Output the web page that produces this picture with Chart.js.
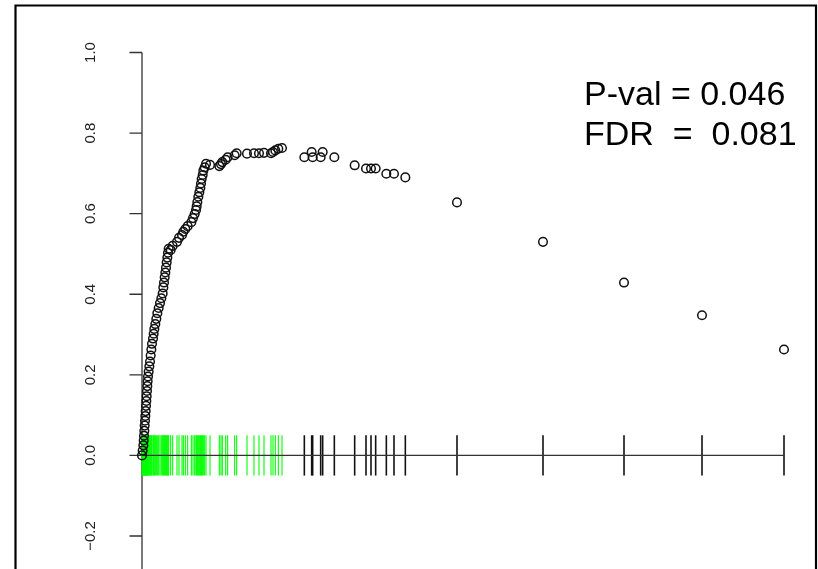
<!DOCTYPE html>
<html>
<head>
<meta charset="utf-8">
<script src="https://cdn.jsdelivr.net/npm/chart.js@4.4.0/dist/chart.umd.min.js"></script>
<style>
  html, body { margin: 0; padding: 0; background: #fff; overflow: hidden; }
  #wrap { width: 818px; height: 569px; }
</style>
</head>
<body>
<div id="wrap"><canvas id="es" width="818" height="569"></canvas></div>
<script>
// gene-set hits: position in the ranked list and running enrichment score
const ranks = [
  0, 2, 4, 5, 6, 7, 8, 9, 10, 11, 12, 13, 14, 15, 16, 17,
  18, 20, 22, 24, 26, 28, 30, 33, 35, 37, 40, 43, 46, 50, 54, 58, 62,
  64, 66, 68, 70, 72, 74, 76, 78, 80,
  86, 92, 105, 111, 120, 124, 130, 137, 148, 153, 158,
  162, 164, 166, 169, 172, 175, 177, 179, 182, 184, 188, 192,
  204, 232, 237, 241, 251, 257, 278, 284, 315, 336, 351, 366, 387, 393, 400, 409, 420,
  487, 509, 512, 536, 542, 577, 638, 672, 687, 701, 733, 756, 790, 945, 1203, 1446, 1680, 1926
];
const scores = [
  0.000, 0.012, 0.025, 0.037, 0.049, 0.061, 0.074, 0.086, 0.098, 0.110, 0.123, 0.135, 0.147, 0.160, 0.172, 0.184,
  0.196, 0.208, 0.221, 0.233, 0.248, 0.263, 0.277, 0.290, 0.302, 0.314, 0.326, 0.339, 0.353, 0.366, 0.378, 0.390, 0.402,
  0.417, 0.429, 0.442, 0.454, 0.466, 0.479, 0.491, 0.503, 0.513,
  0.510, 0.520, 0.530, 0.540, 0.547, 0.555, 0.562, 0.569, 0.579, 0.589, 0.599,
  0.609, 0.618, 0.629, 0.642, 0.653, 0.664, 0.675, 0.686, 0.696, 0.707, 0.715, 0.724,
  0.721, 0.718, 0.723, 0.728, 0.734, 0.740, 0.745, 0.750, 0.749, 0.750, 0.750, 0.751, 0.750, 0.753, 0.757, 0.761, 0.763,
  0.740, 0.753, 0.740, 0.740, 0.753, 0.740, 0.720, 0.712, 0.712, 0.712, 0.699, 0.699, 0.690, 0.628, 0.530, 0.429, 0.348, 0.263
];
const leadingEdgeSize = 82;   // first hits, drawn green in the rug
const yTicks = [-0.2, 0, 0.2, 0.4, 0.6, 0.8, 1.0];
const rugHalf = 0.05;
const statLines = ['P-val = 0.046', 'FDR  =  0.081'];

const points = ranks.map((r, i) => ({ x: r, y: scores[i] }));
const rug = ranks.map(r => ({ x: r, y: 0 }));
const rugColors = ranks.map((r, i) => i < leadingEdgeSize ? '#00ff00' : '#111111');

const FONT = '"Liberation Sans", Arial, Helvetica, sans-serif';

// R-style left axis with rotated labels, stats text and outer frame
const decorations = {
  id: 'decorations',
  beforeDatasetsDraw(chart) {
    const { ctx, scales: { x, y } } = chart;
    const x0 = x.getPixelForValue(0);
    ctx.save();
    ctx.strokeStyle = '#333';
    ctx.lineWidth = 1.3;
    ctx.beginPath();
    ctx.moveTo(x0, y.getPixelForValue(yTicks[yTicks.length - 1]));
    ctx.lineTo(x0, chart.height);
    yTicks.forEach(v => {
      const py = y.getPixelForValue(v);
      ctx.moveTo(x0 - 12.5, py);
      ctx.lineTo(x0, py);
    });
    ctx.stroke();

    ctx.fillStyle = '#222';
    ctx.font = '15px ' + FONT;
    ctx.textAlign = 'center';
    ctx.textBaseline = 'middle';
    yTicks.forEach(v => {
      ctx.save();
      ctx.translate(x0 - 51, y.getPixelForValue(v));
      ctx.rotate(-Math.PI / 2);
      ctx.fillText(v.toFixed(1).replace('-', '\u2212'), 0, 0);
      ctx.restore();
    });
    ctx.restore();
  },
  afterDraw(chart) {
    const { ctx } = chart;
    ctx.save();
    ctx.fillStyle = '#000';
    ctx.font = '34px ' + FONT;
    ctx.textAlign = 'left';
    ctx.textBaseline = 'alphabetic';
    ctx.fillText(statLines[0], 584, 104.5);
    ctx.fillText(statLines[1], 584, 144.5);

    ctx.strokeStyle = '#000';
    ctx.lineWidth = 2.2;
    ctx.beginPath();
    ctx.moveTo(15.5, chart.height + 5);
    ctx.lineTo(15.5, 5.5);
    ctx.lineTo(816, 5.5);
    ctx.lineTo(816, chart.height + 5);
    ctx.stroke();
    ctx.restore();
  }
};

new Chart(document.getElementById('es'), {
  data: {
    datasets: [
      {
        type: 'scatter',
        data: points,
        pointStyle: 'circle',
        pointRadius: 4.3,
        pointBorderWidth: 1.5,
        pointBorderColor: '#111',
        pointBackgroundColor: 'rgba(0,0,0,0)',
        clip: false
      },
      {
        type: 'line',
        data: [{ x: 0, y: 0 }, { x: ranks[ranks.length - 1], y: 0 }],
        borderColor: '#333',
        borderWidth: 1.3,
        pointRadius: 0,
        clip: false
      },
      {
        type: 'scatter',
        data: rug,
        pointStyle: 'line',
        rotation: 90,
        pointRadius: (c) => {
          const y = c.chart.scales.y;
          return Math.abs(y.getPixelForValue(rugHalf) - y.getPixelForValue(0));
        },
        pointBorderWidth: (c) => (c.dataIndex < leadingEdgeSize ? 1.1 : 1.6),
        pointBorderColor: rugColors,
        clip: false
      }
    ]
  },
  options: {
    responsive: false,
    animation: false,
    events: [],
    layout: { padding: { left: 142, right: 34, top: 52.5, bottom: 0 } },
    scales: {
      x: { type: 'linear', min: 0, max: 1926, display: false },
      y: { type: 'linear', min: -0.2675, max: 1.0, display: false }
    },
    plugins: { legend: { display: false }, tooltip: { enabled: false } }
  },
  plugins: [decorations]
});
</script>
</body>
</html>
